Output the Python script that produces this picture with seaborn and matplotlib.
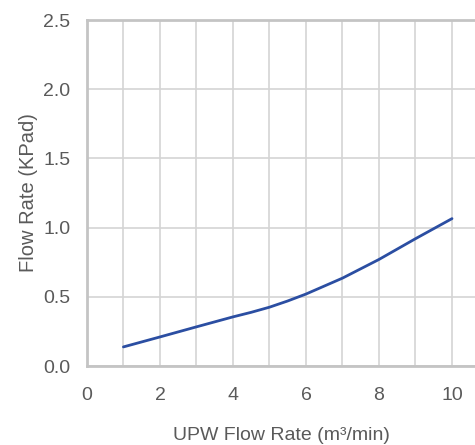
import pandas as pd
import matplotlib
matplotlib.use("Agg")
import matplotlib.pyplot as plt
import seaborn as sns

# values
upw_flow = [1, 2, 3, 4, 4.5, 5, 5.5, 6, 7, 8, 9, 10]
pressure = [0.138, 0.21, 0.283, 0.355, 0.388, 0.425, 0.47, 0.52, 0.635, 0.77, 0.92, 1.065]
x_ticks = [0, 2, 4, 6, 8, 10]
y_ticks = [0.0, 0.5, 1.0, 1.5, 2.0, 2.5]

df = pd.DataFrame({"flow": upw_flow, "kpa": pressure})

sns.set_style("white")
plt.rcParams["font.family"] = ["Liberation Sans", "DejaVu Sans"]

fig = plt.figure(figsize=(4.75, 4.45), dpi=100)
ax = fig.add_axes([0.183, 0.1775, 0.817, 0.7775])

sns.lineplot(data=df, x="flow", y="kpa", ax=ax, color="#2b4ea2", linewidth=2)

ax.set_xlim(0, 10.63)
ax.set_ylim(0, 2.5)
ax.set_xticks(range(0, 11))
ax.set_xticklabels([str(t) if t in x_ticks else "" for t in range(0, 11)])
ax.set_yticks(y_ticks)
ax.set_yticklabels([f"{t:.1f}" for t in y_ticks])

ax.grid(True, color="#d4d4d4", linewidth=1.2)
ax.set_axisbelow(True)
for side in ["left", "top", "bottom"]:
    ax.spines[side].set_color("#c4c4c4")
    ax.spines[side].set_linewidth(2)
ax.spines["right"].set_visible(False)

ax.tick_params(axis="both", length=0, labelsize=14, labelcolor="#5a5a5a")
ax.tick_params(axis="x", pad=15)
ax.tick_params(axis="y", pad=12)

ax.set_xlabel("UPW Flow Rate (m³/min)", fontsize=14, color="#5a5a5a", labelpad=17)
ax.set_ylabel("Flow Rate (KPad)", fontsize=14.5, color="#5a5a5a", labelpad=4)

fig.savefig("out.png", dpi=100)
